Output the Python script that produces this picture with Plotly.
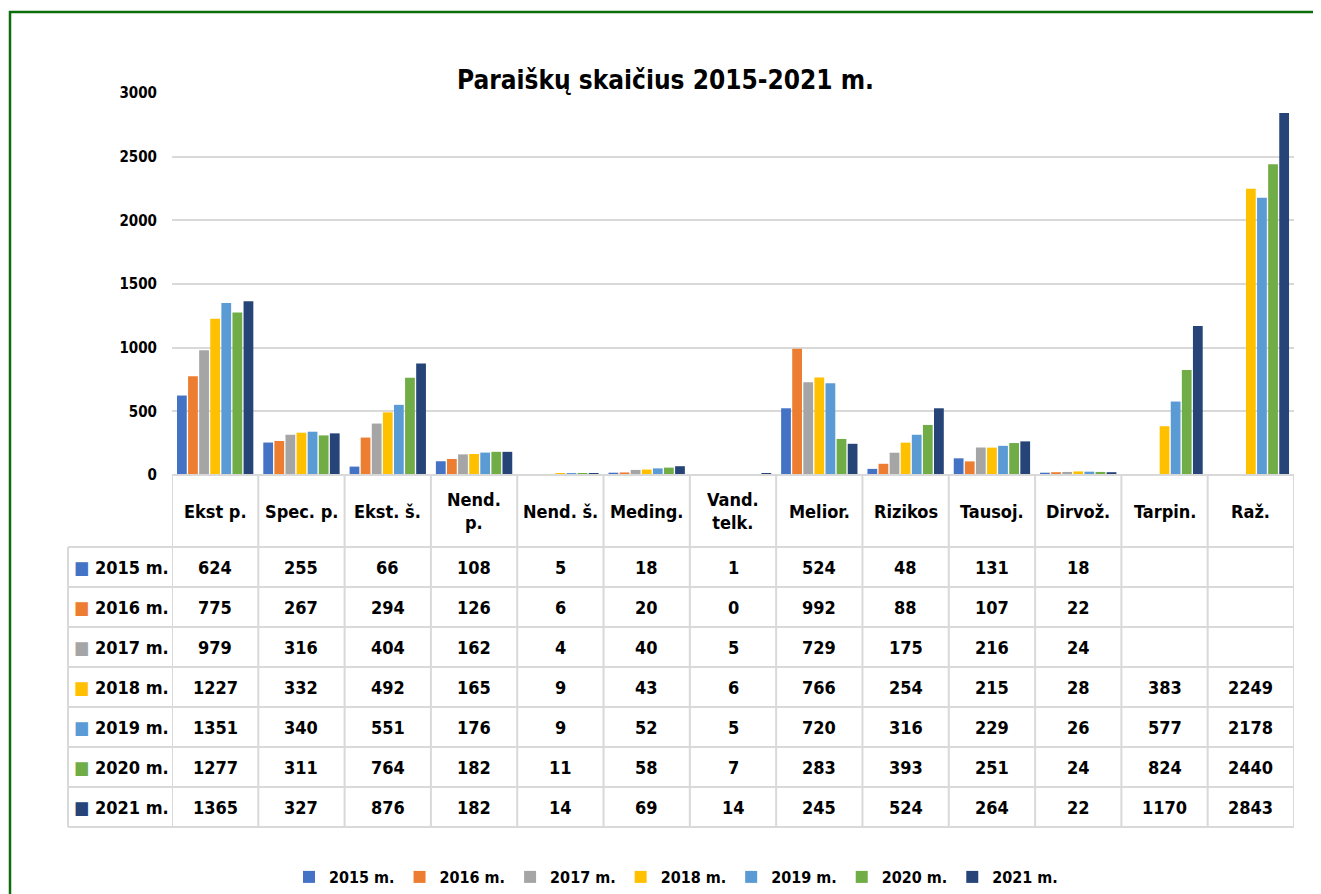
import plotly.graph_objects as go

# page body has an 8px margin: the figure is drawn at (8, 8) inside the 1321x894 window
OX, OY = 8, 8
W, H = 1321 - OX, 894 - OY

categories = ["Ekst p.", "Spec. p.", "Ekst. š.", "Nend. p.", "Nend. š.", "Meding.",
              "Vand. telk.", "Melior.", "Rizikos", "Tausoj.", "Dirvož.", "Tarpin.", "Raž."]
header_labels = ["Ekst p.", "Spec. p.", "Ekst. š.", "Nend.<br>p.", "Nend. š.", "Meding.",
                 "Vand.<br>telk.", "Melior.", "Rizikos", "Tausoj.", "Dirvož.", "Tarpin.", "Raž."]

series_names = ["2015 m.", "2016 m.", "2017 m.", "2018 m.", "2019 m.", "2020 m.", "2021 m."]
colors = ["#4472C4", "#ED7D31", "#A5A5A5", "#FFC000", "#5B9BD5", "#70AD47", "#264478"]

v2015 = [624, 255, 66, 108, 5, 18, 1, 524, 48, 131, 18, None, None]
v2016 = [775, 267, 294, 126, 6, 20, 0, 992, 88, 107, 22, None, None]
v2017 = [979, 316, 404, 162, 4, 40, 5, 729, 175, 216, 24, None, None]
v2018 = [1227, 332, 492, 165, 9, 43, 6, 766, 254, 215, 28, 383, 2249]
v2019 = [1351, 340, 551, 176, 9, 52, 5, 720, 316, 229, 26, 577, 2178]
v2020 = [1277, 311, 764, 182, 11, 58, 7, 283, 393, 251, 24, 824, 2440]
v2021 = [1365, 327, 876, 182, 14, 69, 14, 245, 524, 264, 22, 1170, 2843]
series_values = [v2015, v2016, v2017, v2018, v2019, v2020, v2021]

FONT = "'Liberation Sans Narrow', 'Arial Narrow', 'DejaVu Sans Condensed', Arial, sans-serif"


def px(x):
    return (x - OX) / W


def py(y):
    return 1 - (y - OY) / H


fig = go.Figure()
for name, col, vals in zip(series_names, colors, series_values):
    fig.add_trace(go.Bar(name=name, x=categories, y=vals, marker_color=col,
                         marker_line_width=0))

# table geometry (window pixels)
plot_left, plot_right = 172, 1294
axis_y, header_bot, row_h = 475, 547, 40
label_left = 68
n_rows = len(series_names)
table_bot = header_bot + row_h * n_rows
grid_col = "#d9d9d9"

shapes = []
for i in range(len(categories) + 1):
    shapes.append(dict(type="line", xref="x", yref="paper", x0=i - 0.5, x1=i - 0.5,
                       y0=py(axis_y), y1=py(table_bot), line=dict(color=grid_col, width=2)))
shapes.append(dict(type="line", xref="paper", yref="paper", x0=px(label_left), x1=px(label_left),
                   y0=py(header_bot), y1=py(table_bot), line=dict(color=grid_col, width=2)))
shapes.append(dict(type="line", xref="paper", yref="paper", x0=px(plot_left), x1=px(plot_right),
                   y0=py(axis_y), y1=py(axis_y), line=dict(color=grid_col, width=2)))
for k in range(n_rows + 1):
    yy = header_bot + row_h * k
    shapes.append(dict(type="line", xref="paper", yref="paper", x0=px(label_left), x1=px(plot_right),
                       y0=py(yy), y1=py(yy), line=dict(color=grid_col, width=2)))
# green outer border (left and top visible)
shapes.append(dict(type="rect", xref="paper", yref="paper", x0=px(10), x1=1.05, y0=-0.05, y1=py(12),
                   line=dict(color="#0b6e0b", width=2.5), layer="below"))

annotations = []
annotations.append(dict(text="<b>Paraiškų skaičius 2015-2021 m.</b>", xref="paper", yref="paper",
                        x=px(665), y=py(80), showarrow=False, xanchor="center", yanchor="middle",
                        font=dict(family=FONT, size=26, color="#000000")))
for i, lab in enumerate(header_labels):
    annotations.append(dict(text="<b>" + lab + "</b>", xref="x", yref="paper", x=i,
                            y=py((axis_y + header_bot) / 2), showarrow=False,
                            xanchor="center", yanchor="middle",
                            font=dict(family=FONT, size=18, color="#000000")))
for j, (name, col, vals) in enumerate(zip(series_names, colors, series_values)):
    yc = py(header_bot + row_h * j + row_h / 2)
    annotations.append(dict(text=f"<span style='color:{col}'>■</span><b> {name}</b>",
                            xref="paper", yref="paper", x=px(72), y=yc, showarrow=False,
                            xanchor="left", yanchor="middle",
                            font=dict(family=FONT, size=18, color="#000000")))
    for i, v in enumerate(vals):
        if v is None:
            continue
        annotations.append(dict(text=f"<b>{v}</b>", xref="x", yref="paper", x=i, y=yc,
                                showarrow=False, xanchor="center", yanchor="middle",
                                font=dict(family=FONT, size=18, color="#000000")))

fig.update_layout(
    width=W, height=H,
    margin=dict(l=0, r=0, t=0, b=0, autoexpand=False),
    paper_bgcolor="white", plot_bgcolor="white",
    barmode="group", bargap=0.1, bargroupgap=0.12,
    showlegend=True,
    legend=dict(orientation="h", x=px(676), xanchor="center", y=py(877), yanchor="middle",
                font=dict(family=FONT, size=16, color="#000000", weight="bold"),
                itemwidth=30, traceorder="normal"),
    xaxis=dict(domain=[px(plot_left), px(plot_right)], range=[-0.5, 12.5],
               showticklabels=False, showgrid=False, showline=False, zeroline=False),
    yaxis=dict(domain=[py(axis_y), py(93)], range=[0, 3000],
               tickvals=[0, 500, 1000, 1500, 2000, 2500, 3000],
               showgrid=True, gridcolor=grid_col, gridwidth=2, zeroline=False, showline=False,
               ticklabelstandoff=14,
               tickfont=dict(family=FONT, size=15, color="#000000", weight="bold")),
    shapes=shapes,
    annotations=annotations,
)

fig.write_html("out.html")
